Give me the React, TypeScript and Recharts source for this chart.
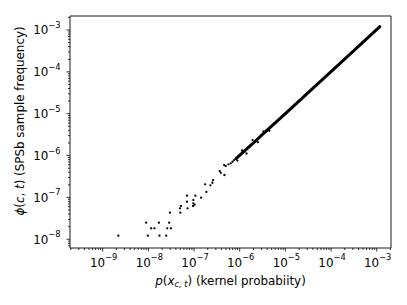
import React from 'react';
import { ScatterChart, Scatter, XAxis, YAxis, ReferenceArea } from 'recharts';

// sparse low-probability points (kernel probability, sample frequency)
const sparseX = [
  2.2e-9, 8.95e-9, 9.75e-9, 1.15e-8, 1.36e-8, 1.7e-8, 1.75e-8, 2.46e-8, 2.59e-8, 2.86e-8,
  3.13e-8, 2.97e-8, 5.0e-8, 4.92e-8, 5.18e-8, 7.23e-8, 7.02e-8, 7.02e-8, 1.07e-7, 9.66e-8,
  9.66e-8, 1.03e-7, 9.51e-8, 1.43e-7, 1.86e-7, 1.75e-7, 2.28e-7, 2.52e-7, 2.62e-7, 4.63e-7,
  3.66e-7, 3.85e-7, 4.56e-7, 4.95e-7, 5.68e-7, 6.37e-7, 6.95e-7, 7.57e-7, 8.91e-7, 1.12e-6,
  1.41e-6, 1.91e-6, 2.51e-6, 3.31e-6, 4.47e-6,
];
const sparseY = [
  1.22e-8, 2.49e-8, 1.22e-8, 1.83e-8, 1.83e-8, 2.49e-8, 1.22e-8, 1.22e-8, 1.83e-8, 2.49e-8,
  1.83e-8, 4.32e-8, 4.32e-8, 5.5e-8, 6.24e-8, 5.5e-8, 7.89e-8, 1.1e-7, 1.1e-7, 8.67e-8,
  7.23e-8, 6.7e-8, 6.24e-8, 9.84e-8, 1.35e-7, 2.06e-7, 1.95e-7, 2.24e-7, 2.6e-7, 3.43e-7,
  4.27e-7, 3.88e-7, 5.93e-7, 5.61e-7, 6.17e-7, 6.52e-7, 7.11e-7, 7.82e-7, 7.59e-7, 1.32e-6,
  1.12e-6, 2.34e-6, 2.09e-6, 3.8e-6, 3.89e-6,
];

// dense high-probability points, which merge into a thick line
const denseX = [8.3e-7, 1.26e-6, 2.0e-6, 3.16e-6, 1.0e-5, 3.16e-5, 1.0e-4, 3.16e-4, 1.17e-3];
const denseY = [8.5e-7, 1.28e-6, 2.0e-6, 3.2e-6, 1.01e-5, 3.2e-5, 1.01e-4, 3.2e-4, 1.2e-3];

const xMajorTicks = [1e-9, 1e-8, 1e-7, 1e-6, 1e-5, 1e-4, 1e-3];
const yMajorTicks = [1e-8, 1e-7, 1e-6, 1e-5, 1e-4, 1e-3];

const xDomain = [Math.pow(10, -9.716), Math.pow(10, -2.687)];
const yDomain = [Math.pow(10, -8.208), Math.pow(10, -2.666)];

const FONT = 'DejaVu Sans';
const FS = 11.9;
const SUP = 8.3;

const minorTicks = (dom: number[]) => {
  const out: number[] = [];
  for (let e = -11; e <= -2; e++) {
    for (let m = 1; m <= 9; m++) {
      const v = m * Math.pow(10, e);
      if (v >= dom[0] && v <= dom[1]) out.push(v);
    }
  }
  return out;
};

const isMajor = (v: number) => {
  const l = Math.log10(v);
  return Math.abs(l - Math.round(l)) < 1e-6;
};

const expLabel = (v: number) => '\u2212' + Math.abs(Math.round(Math.log10(v)));

const XTick = (props: any) => {
  const { x, y, payload } = props;
  const v = payload.value;
  const major = isMajor(v);
  return (
    <g>
      <line x1={x} x2={x} y1={y} y2={y + (major ? 3.5 : 2)} stroke="#000" strokeWidth={0.8} />
      {major && (
        <text x={x + 1} y={y + 18.7} textAnchor="middle" fontFamily={FONT} fontSize={FS} fill="#000">
          <tspan>10</tspan>
          <tspan dy={-6.3} fontSize={SUP}>{expLabel(v)}</tspan>
        </text>
      )}
    </g>
  );
};

const YTick = (props: any) => {
  const { x, y, payload } = props;
  const v = payload.value;
  const major = isMajor(v);
  return (
    <g>
      <line x1={x - (major ? 3.5 : 2)} x2={x} y1={y} y2={y} stroke="#000" strokeWidth={0.8} />
      {major && (
        <text x={x - 9.5} y={y + 4.3} textAnchor="end" fontFamily={FONT} fontSize={FS} fill="#000">
          <tspan>10</tspan>
          <tspan dy={-6.3} fontSize={SUP}>{expLabel(v)}</tspan>
        </text>
      )}
    </g>
  );
};

const sparseData = sparseX.map((x, i) => ({ x, y: sparseY[i] }));
const denseData = denseX.map((x, i) => ({ x, y: denseY[i] }));

const Dot = (props: any) => <circle cx={props.cx} cy={props.cy} r={1.15} fill="#000" />;
const NoDot = () => <g />;

export default function App() {
  return (
    <div style={{ position: 'absolute', left: 0, top: 0, width: 407, height: 305, background: '#fff' }}>
      <ScatterChart width={407} height={305} margin={{ top: 16, right: 16, left: 0, bottom: 0 }}>
        <XAxis
          dataKey="x"
          type="number"
          scale="log"
          domain={xDomain}
          allowDataOverflow
          ticks={minorTicks(xDomain)}
          interval={0}
          tick={<XTick />}
          tickLine={false}
          tickSize={0}
          tickMargin={0}
          axisLine={false}
          height={57}
        />
        <YAxis
          dataKey="y"
          type="number"
          scale="log"
          domain={yDomain}
          allowDataOverflow
          ticks={minorTicks(yDomain)}
          interval={0}
          tick={<YTick />}
          tickLine={false}
          tickSize={0}
          tickMargin={0}
          axisLine={false}
          width={70}
        />
        <ReferenceArea
          x1={xDomain[0]}
          x2={xDomain[1]}
          y1={yDomain[0]}
          y2={yDomain[1]}
          fill="none"
          fillOpacity={0}
          stroke="#000"
          strokeWidth={0.9}
          ifOverflow="visible"
        />
        <Scatter
          data={denseData}
          line={{ stroke: '#000', strokeWidth: 3, strokeLinecap: 'round' }}
          shape={NoDot}
          isAnimationActive={false}
        />
        <Scatter data={sparseData} shape={Dot} isAnimationActive={false} />
      </ScatterChart>
      <svg
        width={407}
        height={305}
        style={{ position: 'absolute', left: 0, top: 0, pointerEvents: 'none' }}
      >
        <text x={230.5} y={284.5} textAnchor="middle" fontFamily={FONT} fontSize={FS} fill="#000">
          <tspan fontStyle="italic">p</tspan>
          <tspan>(</tspan>
          <tspan fontStyle="italic">x</tspan>
          <tspan fontStyle="italic" fontSize={SUP} dy={2.2}>c, t</tspan>
          <tspan dy={-2.2}>) (kernel probabiity)</tspan>
        </text>
        <text
          transform="translate(24 121) rotate(-90)"
          x={0}
          y={0}
          textAnchor="middle"
          fontFamily={FONT}
          fontSize={FS}
          fill="#000"
        >
          <tspan fontStyle="italic">ϕ</tspan>
          <tspan>(</tspan>
          <tspan fontStyle="italic">c</tspan>
          <tspan>, </tspan>
          <tspan fontStyle="italic">t</tspan>
          <tspan>) (SPSb sample frequency)</tspan>
        </text>
      </svg>
    </div>
  );
}
